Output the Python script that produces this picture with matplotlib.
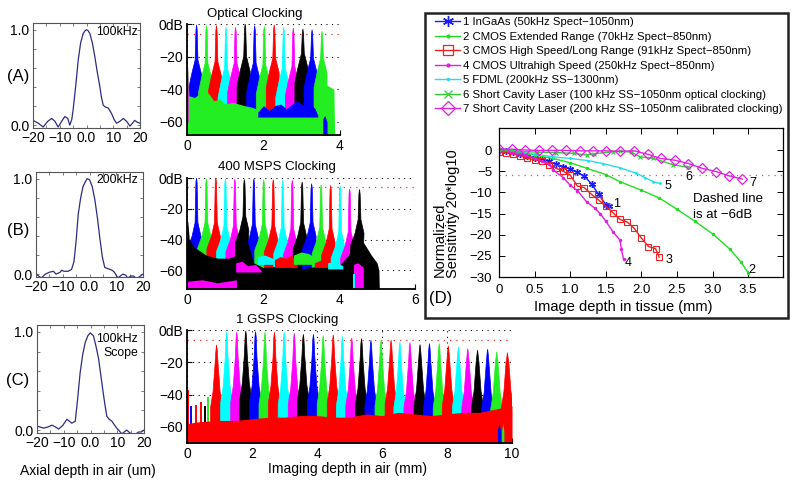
import matplotlib
matplotlib.use('Agg')
import matplotlib.pyplot as plt
from matplotlib.lines import Line2D
from matplotlib.patches import Rectangle

plt.rcParams['font.family'] = ['Liberation Sans', 'DejaVu Sans']

# ---------------- DATA ----------------
# Axial PSFs (left column)
psf_a_x = [-20, -18, -16.2, -14.5, -13, -11.8, -10.6, -9.3, -8.1, -7, -6.25, -5.5, -5, -4, -3.1, -2.2,
           -1.25, -0.5, 0, 0.6, 1.25, 2.2, 3.1, 4, 5, 5.6, 6.25, 7, 8.1, 9.4, 10.3, 11.25, 12.5, 13.75,
           15, 16.25, 17.2, 18, 19, 20]
psf_a_y = [0.05, 0.02, -0.02, 0.04, 0.07, 0.04, -0.02, 0.04, 0.09, 0.07, 0.0, 0.06, 0.16, 0.42, 0.68,
           0.86, 0.96, 0.99, 1.0, 0.99, 0.96, 0.86, 0.72, 0.56, 0.40, 0.29, 0.21, 0.19, 0.18, 0.12,
           0.06, 0.02, 0.04, 0.07, 0.04, -0.01, 0.02, 0.05, 0.03, 0.02]
psf_b_x = [-20, -18, -16.5, -15, -13.5, -12.5, -11, -10.4, -9.5, -8, -6.7, -5.8, -5, -4.2, -3.3, -2.4,
           -1.5, -0.9, 0, 1, 2, 3, 3.85, 4.8, 5.7, 7.6, 8.5, 9.3, 10.6, 11.5, 12.5, 13.5, 14.3, 15.5,
           16.5, 17.6, 18.5, 20]
psf_b_y = [0.0, -0.04, 0.0, 0.02, 0.03, 0.0, 0.02, 0.04, 0.03, 0.03, 0.05, 0.13, 0.35, 0.63, 0.80,
           0.92, 0.97, 1.0, 0.99, 0.92, 0.78, 0.58, 0.38, 0.18, 0.07, 0.05, 0.04, 0.02, -0.04, -0.02,
           0.0, -0.01, -0.04, -0.02, -0.02, -0.05, -0.03, 0.0]
psf_c_x = [-20, -17.5, -16, -14.4, -13, -11.9, -10.3, -8.8, -7, -5.7, -4.8, -3.85, -2.9, -2, -1, -0.1,
           1.1, 2, 3, 3.9, 4.8, 5.5, 6.1, 7, 8, 9, 9.8, 10.8, 11.7, 12.6, 13.5, 14.8, 16, 17, 17.9, 19, 20]
psf_c_y = [0.04, 0.02, 0.03, 0.05, 0.03, 0.01, 0.05, 0.11, 0.07, 0.09, 0.32, 0.59, 0.77, 0.89, 0.96,
           0.99, 0.96, 0.86, 0.73, 0.55, 0.37, 0.24, 0.14, 0.11, 0.09, 0.05, 0.02, -0.01, -0.04, -0.02,
           0.0, -0.03, -0.05, -0.04, -0.02, -0.02, 0.0]
psf_tags = ['100kHz', '200kHz', '100kHz\nScope']
panel_tags = ['(A)', '(B)', '(C)']

# Depth-scan spectra (middle column)
spec_titles = ['Optical Clocking', '400 MSPS Clocking', '1 GSPS Clocking']

specA_pos = [0.25, 0.51, 0.77, 1.02, 1.27, 1.52, 1.77, 2.02, 2.28, 2.53, 2.78, 3.03, 3.27, 3.53]
specA_top = [-0.5, -1, -1, -2, -2, 0, -1, -1.5, -0.5, -2, -2.5, -3, -3.5, -4.5]
specA_skirt = [-31, -33, -32, -36, -33, -29, -33, -34, -30, -36, -35, -27, -30, -30]
specA_col = ['b', 'g', 'r', 'c', 'm', 'k', 'b', 'g', 'r', 'c', 'm', 'k', 'b', 'g']
floorA_x = [0, 0.02, 0.05, 0.2, 0.3, 0.45, 0.55, 0.7, 0.85, 1.0, 1.2, 1.5, 1.7, 2.0, 2.3, 2.5, 2.8,
            3.0, 3.2, 3.35, 3.45, 3.55, 3.7, 3.84, 3.86]
floorA_y = [-28, -28, -44, -45, -43, -46, -42, -47, -46, -49, -48, -50, -51, -54, -52, -54, -53,
            -56, -54, -55, -38, -36, -38, -40, -68]
bandsA = [
    ([1.85, 2.0, 2.15, 2.3, 2.45, 2.6, 2.75, 2.9, 3.05, 3.2, 3.35, 3.42],
     [-54, -50, -53, -50, -49, -52, -49, -47, -50, -48, -52, -56], -57, 'b'),
    ([3.55, 3.6, 3.66], [-58, -56, -60], -68, 'b'),
    ([0.0, 0.015, 0.03], [-26, -26, -40], -60, 'm'),
]

specB_pos = [0.25, 0.51, 0.76, 1.01, 1.26, 1.51, 1.76, 2.02, 2.27, 2.52, 2.77, 3.03, 3.28, 3.53,
             3.78, 4.03, 4.28, 4.54]
specB_top = [0, -0.5, 0, -0.5, -0.5, -1, -0.5, -1, -1, -1.5, -1.5, -2.6, -3.7, -4.4, -4.8, -5.2, -7, -7.4]
specB_skirt = [-38, -38, -38, -40, -40, -34, -39, -39, -40, -41, -42, -38, -38, -41, -42, -44, -44, -36]
specB_col = ['b', 'g', 'r', 'c', 'm', 'k', 'b', 'g', 'r', 'c', 'm', 'k', 'b', 'g', 'r', 'c', 'm', 'k']
floorB_x = [0, 0.02, 0.06, 0.2, 0.5, 0.8, 1.1, 1.3, 1.42, 1.51, 1.6, 1.75, 2.0, 2.5, 3.0, 3.5, 4.0,
            4.25, 4.4, 4.54, 4.7, 4.85, 5.0, 5.05, 5.06]
floorB_y = [-30, -28, -40, -45, -50, -52, -52, -50, -42, -38, -42, -55, -58, -57, -59, -57, -57,
            -50, -42, -38, -44, -50, -55, -60, -72]
bandsB = [
    ([0.0, 0.4, 0.8, 1.3], [-67, -66, -68, -66], -72, 'm'),
    ([1.28, 1.45, 1.6, 1.8, 1.95], [-55, -54, -57, -56, -60], -61, 'm'),
    ([1.85, 2.05, 2.25, 2.5], [-51, -50, -52, -54], -56, 'c'),
    ([2.3, 2.45, 2.6, 2.75, 2.9], [-53, -51, -52, -50, -55], -58, 'r'),
    ([2.8, 3.0, 3.2, 3.45], [-50, -48, -49, -53], -56, 'g'),
    ([3.35, 3.55, 3.8], [-55, -53, -56], -58, 'r'),
    ([3.7, 3.9, 4.1], [-55, -54, -57], -59, 'c'),
    ([4.38, 4.5, 4.64], [-56, -55, -58], -72, 'm'),
    ([4.36, 4.39, 4.42], [-62, -62, -62], -72, 'c'),
]

specC_pos = [0.91, 1.22, 1.53, 1.81, 2.11, 2.40, 2.69, 2.99, 3.30, 3.58, 3.89, 4.19, 4.50, 4.78,
             5.07, 5.37, 5.66, 5.97, 6.28, 6.55, 6.86, 7.17, 7.46, 7.76, 8.04, 8.35, 8.64, 8.94,
             9.25, 9.53, 9.86]
specC_top = [-9.2, -1.4, -1.4, -0.6, -1, -1.4, -1.4, -1.4, -2, -2.7, -2.7, -3.5, -3, -4, -4.9, -5.3,
             -6.3, -6.3, -6.3, -7.4, -7.8, -9, -8.4, -8.4, -9.8, -10.4, -11.5, -12.5, -11.9, -13.5, -14]
specC_skirt = [-38, -35, -35, -33, -35, -36, -35, -36, -36, -34, -35, -36, -35, -37, -37, -36, -37,
               -37, -36, -38, -38, -37, -38, -38, -37, -38, -38, -38, -39, -39, -38]
specC_col = ['r', 'c', 'm', 'k', 'b', 'g'] * 5 + ['r']
floorC_x = [0, 0.3, 0.9, 1.5, 2.0, 2.5, 3.0, 3.5, 4.0, 4.5, 5.0, 5.5, 6.0, 6.5, 7.0, 7.5, 8.0, 8.5,
            9.0, 9.5, 9.9, 10.0]
floorC_y = [-58, -57, -56, -56, -55, -54, -54, -53, -53, -54, -54, -52, -53, -51, -52, -53, -52,
            -51, -51, -49, -47, -47]
smallC_pos = [0.03, 0.12, 0.27, 0.42, 0.55, 0.66]
smallC_top = [-38, -48, -47, -45, -48, -42]
smallC_col = ['r', 'b', 'r', 'r', 'k', 'g']
bandsC = [
    ([9.55, 9.6, 9.65], [-62, -58, -62], -70, 'b'),
    ([9.68, 9.72, 9.75], [-62, -58, -63], -70, 'g'),
]

# Sensitivity roll-off (panel D)
d1_x = [0, 0.1, 0.2, 0.3, 0.4, 0.5, 0.6, 0.7, 0.8, 0.9, 1.0, 1.1, 1.2, 1.3, 1.4, 1.5, 1.55]
d1_y = [0, -0.2, -0.5, -0.9, -1.4, -1.9, -2.2, -2.7, -3.3, -3.9, -4.5, -5.2, -6.2, -8.0, -10.5, -12.9, -13.3]
d2_x = [0, 0.25, 0.5, 0.76, 1.0, 1.23, 1.5, 1.7, 2.0, 2.25, 2.5, 2.75, 3.0, 3.25, 3.4, 3.5]
d2_y = [0, -0.6, -1.2, -2.0, -3.0, -4.3, -5.8, -7.5, -9.5, -11.3, -14.0, -16.8, -19.8, -23.5, -26.5, -29.0]
d3_x = [0, 0.1, 0.2, 0.3, 0.4, 0.5, 0.6, 0.7, 0.8, 0.9, 1.0, 1.1, 1.2, 1.3, 1.4, 1.5, 1.6, 1.7, 1.8,
        1.9, 2.0, 2.1, 2.2, 2.25]
d3_y = [-0.4, -0.6, -0.9, -1.3, -2.0, -2.3, -2.7, -3.5, -4.3, -5.0, -5.9, -8.5, -8.9, -10.5, -11.8,
        -13.3, -14.8, -16.4, -17.0, -18.5, -20.8, -22.8, -23.3, -25.3]
d4_x = [0, 0.25, 0.5, 0.6, 0.7, 0.76, 0.9, 1.0, 1.1, 1.23, 1.35, 1.42, 1.5, 1.6, 1.7, 1.72, 1.75]
d4_y = [0, -0.8, -2.0, -2.6, -3.3, -4.7, -6.5, -8.3, -9.6, -12.2, -13.8, -15.0, -16.8, -19.3, -21.3, -23.5, -25.8]
d5_x = [0, 0.25, 0.5, 0.76, 1.0, 1.25, 1.46, 1.7, 1.93, 2.05, 2.17, 2.26]
d5_y = [0.2, -0.3, -1.0, -1.6, -2.0, -2.5, -3.2, -4.2, -5.5, -6.5, -7.5, -7.9]
d6_x = [0, 0.27, 0.53, 0.8, 1.06, 1.23, 1.33, 1.6, 1.7, 1.86, 1.98, 2.17, 2.45, 2.66]
d6_y = [0, -0.3, -0.5, -0.6, -0.8, -1.2, -0.9, -0.4, -0.3, -0.5, -1.6, -2.0, -3.5, -4.1]
d7_x = [0, 0.18, 0.37, 0.56, 0.75, 0.94, 1.14, 1.32, 1.51, 1.70, 1.90, 2.09, 2.27, 2.47, 2.66, 2.85,
        3.05, 3.23, 3.42]
d7_y = [0.2, 0.2, 0.0, -0.1, -0.1, -0.1, -0.2, -0.2, -0.2, -0.3, -0.2, -1.0, -2.0, -2.4, -3.2, -4.3,
        -5.1, -6.1, -6.9]
legend_labels = ['1 InGaAs (50kHz Spect\u22121050nm)',
                 '2 CMOS Extended Range (70kHz Spect\u2212850nm)',
                 '3 CMOS High Speed/Long Range (91kHz Spect\u2212850nm)',
                 '4 CMOS Ultrahigh Speed (250kHz Spect\u2212850nm)',
                 '5 FDML (200kHz SS\u22121300nm)',
                 '6 Short Cavity Laser (100 kHz SS\u22121050nm optical clocking)',
                 '7 Short Cavity Laser (200 kHz SS\u22121050nm calibrated clocking)']
curve_num = ['1', '2', '3', '4', '5', '6', '7']
curve_num_x = [1.65, 3.55, 2.39, 1.82, 2.38, 2.67, 3.57]
curve_num_y = [-12.7, -28.4, -26.0, -26.6, -8.4, -6.3, -7.7]

# ---------------- FIGURE ----------------
W, H = 798, 486
fig = plt.figure(figsize=(W / 100, H / 100), dpi=100)
CM = {'b': '#0000ff', 'g': '#22ee22', 'r': '#ff0000', 'c': '#00ffff', 'm': '#ff00ff', 'k': '#000000'}
ASTER = (6, 2, 0)


def px_axes(l, t, r, b):
    return fig.add_axes([l / W, 1 - b / H, (r - l) / W, (b - t) / H])


def ftext(x, y, s, **kw):
    fig.text(x / W, 1 - y / H, s, **kw)


# ---- left PSF panels
psf_boxes = [(33, 23, 140, 128), (36, 172, 143, 277), (37, 325, 144, 433)]
psf_data = [(psf_a_x, psf_a_y), (psf_b_x, psf_b_y), (psf_c_x, psf_c_y)]
tag_y = [32, 180, 346]
for i, (box, (xx, yy)) in enumerate(zip(psf_boxes, psf_data)):
    ax = px_axes(*box)
    ax.plot(xx, yy, color='#2c2c80', lw=0.9)
    ax.set_xlim(-20, 20)
    ax.set_ylim(-0.03, 1.07)
    ax.set_xticks([-20, -15, -10, -5, 0, 5, 10, 15, 20])
    ax.set_xticklabels(['\u221220', '', '\u221210', '', '0.0', '', '10', '', '20'])
    ax.set_yticks([0, 0.2, 0.4, 0.6, 0.8, 1.0])
    ax.set_yticklabels(['0.0', '', '', '', '', '1.0'])
    ax.tick_params(direction='in', length=2.5, width=0.6, color='#666666', labelsize=10,
                   top=True, right=True, pad=2.5)
    for sp in ax.spines.values():
        sp.set_color('#555555')
        sp.set_linewidth(0.8)
    ftext(138, tag_y[i], psf_tags[i], ha='right', va='center', fontsize=8.8, linespacing=1.25,
          multialignment='right')
ftext(18, 77, panel_tags[0], ha='center', va='center', fontsize=12)
ftext(18, 230, panel_tags[1], ha='center', va='center', fontsize=12)
ftext(18, 380, panel_tags[2], ha='center', va='center', fontsize=12)
ftext(88, 471, 'Axial depth in air (um)', ha='center', va='center', fontsize=10)


# ---- middle spectra panels
def spectrum(box, xlim, ylim, xticks, pos, top, skirt, cols, fl_x, fl_y, fl_col,
             bands, shape, small=None):
    ax = px_axes(*box)
    ax.set_xlim(*xlim)
    ax.set_ylim(*ylim)
    ymin = ylim[0]
    ppu = (box[2] - box[0]) / (xlim[1] - xlim[0])
    dn, s_px, bl, br, drop = shape
    for x0, t, sk, c in zip(pos, top, skirt, cols):
        h = lambda p: p / ppu
        xs = [x0 - h(bl), x0 - h(bl), x0 - h(s_px), x0 - h(1.4), x0 - h(0.6), x0,
              x0 + h(0.6), x0 + h(1.4), x0 + h(s_px), x0 + h(br), x0 + h(br)]
        ys = [ymin, sk - drop, sk, sk + dn, t - 3, t, t - 3, sk + dn, sk, sk - drop, ymin]
        ax.fill(xs, ys, color=CM[c], lw=0.5, ec=CM[c], zorder=2)
    if small is not None:
        sp_pos, sp_top, sp_col = small
        for x0, t, c in zip(sp_pos, sp_top, sp_col):
            ax.plot([x0, x0], [ymin, t], color=CM[c], lw=1.4, zorder=2)
    ax.fill_between(fl_x, ymin, fl_y, color=CM[fl_col], lw=0, zorder=3)
    for bx, bt, bb, c in bands:
        ax.fill_between(bx, bb, bt, color=CM[c], lw=0, zorder=4)
    ax.axhline(-6, color='#ee3333', lw=0.9, ls=(0, (1, 4)), zorder=1.5)
    ax.set_yticks([0, -20, -40, -60])
    ax.set_yticklabels(['0dB', '\u221220', '\u221240', '\u221260'])
    ax.set_xticks(xticks)
    ax.set_xticklabels([str(v) for v in xticks])
    ax.grid(True, color='k', lw=0.8, ls=(0, (1, 4)), zorder=0)
    ax.set_axisbelow(True)
    ax.spines['top'].set_visible(False)
    ax.spines['right'].set_visible(False)
    for sp in ('left', 'bottom'):
        ax.spines[sp].set_linewidth(1.3)
        ax.spines[sp].set_zorder(6)
    ax.tick_params(direction='in', length=3.5, width=0.8, labelsize=10, pad=3)
    return ax


spectrum((187, 24, 340, 135), (0, 4), (-68, 0), [0, 2, 4], specA_pos, specA_top, specA_skirt,
         specA_col, floorA_x, floorA_y, 'g', bandsA, (9, 5, 8, 5, 9))
spectrum((187, 178, 415, 289), (0, 6), (-72, 0), [0, 2, 4, 6], specB_pos, specB_top, specB_skirt,
         specB_col, floorB_x, floorB_y, 'k', bandsB, (9, 4.5, 9, 4, 8))
spectrum((187, 330, 512, 443), (0, 10), (-70, 0), [0, 2, 4, 6, 8, 10], specC_pos, specC_top,
         specC_skirt, specC_col, floorC_x, floorC_y, 'r', bandsC, (18, 3.5, 6, 6, 10),
         small=(smallC_pos, smallC_top, smallC_col))
ftext(255, 14, spec_titles[0], ha='center', va='center', fontsize=9.5)
ftext(277, 167, spec_titles[1], ha='center', va='center', fontsize=9.5)
ftext(287, 320, spec_titles[2], ha='center', va='center', fontsize=9.5)
ftext(348, 469, 'Imaging depth in air (mm)', ha='center', va='center', fontsize=10)

# ---- panel D
axd = px_axes(499, 128, 783, 277)
styles = [
    dict(color='#1a1aff', marker=ASTER, ms=5, mew=1.0, lw=1.0),
    dict(color='#22dd22', marker='.', ms=3, lw=1.0),
    dict(color='#ee2222', marker='s', ms=4.5, mfc='none', mew=0.8, lw=1.0),
    dict(color='#e020e0', marker='.', ms=3, lw=1.0),
    dict(color='#22ddee', marker='.', ms=2, lw=1.0),
    dict(color='#33cc33', marker='x', ms=3.5, mew=0.8, lw=1.0),
    dict(color='#e020e0', marker='D', ms=5, mfc='none', mew=0.9, lw=1.0),
]
curves = [(d1_x, d1_y), (d2_x, d2_y), (d3_x, d3_y), (d4_x, d4_y), (d5_x, d5_y), (d6_x, d6_y), (d7_x, d7_y)]
for (xx, yy), st in zip(curves, styles):
    axd.plot(xx, yy, **st)
axd.axhline(-6, color='#dd5555', lw=0.9, ls=(0, (1, 4)))
for s, x, y in zip(curve_num, curve_num_x, curve_num_y):
    axd.text(x, y, s, fontsize=9, ha='center', va='center')
axd.text(2.72, -11.6, 'Dashed line', fontsize=9.5, ha='left', va='center')
axd.text(2.72, -15.4, 'is at \u22126dB', fontsize=9.5, ha='left', va='center')
axd.set_xlim(0, 3.99)
axd.set_ylim(-30, 5.2)
axd.set_xticks([0, 0.5, 1.0, 1.5, 2.0, 2.5, 3.0, 3.5])
axd.set_xticklabels(['0', '0.5', '1.0', '1.5', '2.0', '2.5', '3.0', '3.5'])
axd.set_yticks([0, -5, -10, -15, -20, -25, -30])
axd.set_yticklabels(['0', '\u22125', '\u221210', '\u221215', '\u221220', '\u221225', '\u221230'])
axd.tick_params(direction='in', length=4, width=0.7, labelsize=9.5, top=True, right=True, pad=5)
for sp in axd.spines.values():
    sp.set_linewidth(0.9)
ftext(623, 307, 'Image depth in tissue (mm)', ha='center', va='center', fontsize=10.5)
ftext(440, 277, 'Normalized', rotation=90, ha='center', va='bottom', fontsize=10.5)
ftext(453, 278, 'Sensitivity 20*log10', rotation=90, ha='center', va='bottom', fontsize=10.5)
ftext(441, 298, '(D)', ha='center', va='center', fontsize=12)

leg_styles = [
    dict(color='#1a1aff', marker=ASTER, ms=8, mew=1.0, lw=1.0),
    dict(color='#22dd22', marker='.', ms=4, lw=1.0),
    dict(color='#ee2222', marker='s', ms=7, mfc='none', mew=0.9, lw=1.0),
    dict(color='#e020e0', marker='.', ms=4, lw=1.0),
    dict(color='#22ddee', marker='.', ms=3, lw=1.0),
    dict(color='#33cc33', marker='x', ms=6, mew=0.9, lw=1.0),
    dict(color='#e020e0', marker='D', ms=7, mfc='none', mew=0.9, lw=1.0),
]
handles = [Line2D([], [], **st) for st in leg_styles]
fig.legend(handles, legend_labels, loc='upper left', bbox_to_anchor=(435 / W, 1 - 17 / H),
           frameon=False, fontsize=8.2, handlelength=2.2, handletextpad=0.3, labelspacing=0.4,
           borderpad=0, borderaxespad=0)
fig.patches.append(Rectangle((425 / W, 1 - 318 / H), 363 / W, 305 / H, fill=False, lw=1.8,
                             ec='#222222', transform=fig.transFigure, figure=fig))

fig.savefig('out.png', dpi=100)
